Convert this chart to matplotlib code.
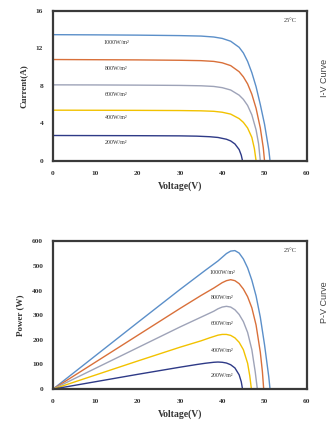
import matplotlib
matplotlib.use("Agg")
import matplotlib.pyplot as plt

plt.rcParams['font.family'] = ['Liberation Serif', 'DejaVu Serif']

irradiance_labels = ["1000W/m²", "800W/m²", "600W/m²", "400W/m²", "200W/m²"]
colors = ['#5B8FC9', '#D9703A', '#9EA3B8', '#F2C200', '#2E3A87']

# I-V curves (voltage V, current A)
iv_v_1000 = [0, 10, 20, 30, 35, 38, 40, 42, 44, 45, 46, 47, 48, 49, 50, 51, 51.3]
iv_i_1000 = [13.45, 13.43, 13.4, 13.35, 13.3, 13.2, 13.05, 12.75, 12.1, 11.5, 10.6, 9.4, 7.9, 6.0, 3.9, 1.2, 0]
iv_v_800 = [0, 10, 20, 30, 35, 38, 40, 42, 44, 45, 46, 47, 48, 49, 49.7, 50.0]
iv_i_800 = [10.8, 10.78, 10.76, 10.72, 10.68, 10.6, 10.45, 10.15, 9.5, 8.95, 8.2, 7.1, 5.6, 3.5, 1.4, 0]
iv_v_600 = [0, 10, 20, 30, 35, 38, 40, 42, 44, 45, 46, 47, 48, 48.6, 49]
iv_i_600 = [8.1, 8.09, 8.07, 8.04, 8.0, 7.93, 7.8, 7.55, 7.0, 6.55, 5.9, 4.9, 3.3, 1.8, 0]
iv_v_400 = [0, 10, 20, 30, 35, 38, 40, 42, 44, 45, 46, 47, 47.6, 48]
iv_i_400 = [5.4, 5.39, 5.38, 5.36, 5.33, 5.28, 5.18, 4.98, 4.5, 4.1, 3.5, 2.5, 1.3, 0]
iv_v_200 = [0, 10, 20, 30, 34, 37, 39, 41, 42, 43, 44, 44.5, 44.8]
iv_i_200 = [2.7, 2.69, 2.68, 2.66, 2.63, 2.57, 2.49, 2.3, 2.12, 1.8, 1.2, 0.6, 0]

# P-V curves (voltage V, power W)
pv_v_1000 = [0, 10, 20, 30, 36, 39, 41, 42, 43, 44, 45, 46, 47, 48, 49, 50, 51, 51.3]
pv_p_1000 = [0, 135, 270, 404, 482, 520, 550, 560, 562, 552, 528, 492, 442, 378, 292, 180, 50, 0]
pv_v_800 = [0, 10, 20, 30, 35, 38, 40, 41, 42, 43, 44, 45, 46, 47, 48, 49, 49.5, 49.8]
pv_p_800 = [0, 109, 218, 327, 380, 410, 432, 440, 444, 440, 428, 406, 375, 330, 260, 150, 70, 0]
pv_v_600 = [0, 10, 20, 30, 35, 38, 39, 40, 41, 42, 43, 44, 45, 46, 47, 47.8, 48.3]
pv_p_600 = [0, 84, 168, 252, 292, 316, 326, 333, 336, 333, 322, 303, 274, 230, 160, 70, 0]
pv_v_400 = [0, 10, 20, 30, 35, 37, 39, 40, 41, 42, 43, 44, 45, 46, 46.5, 46.9]
pv_p_400 = [0, 57, 114, 170, 196, 208, 219, 222, 222, 218, 208, 190, 160, 105, 55, 0]
pv_v_200 = [0, 10, 20, 30, 34, 36, 38, 39, 40, 41, 42, 43, 44, 44.5, 44.8]
pv_p_200 = [0, 30, 60, 89, 100, 105, 109, 110, 109, 106, 99, 86, 58, 30, 0]

iv_label_y = [12.6, 9.8, 7.1, 4.6, 1.9]
pv_label_y = [475, 370, 266, 158, 54]

x_ticks = [0, 10, 20, 30, 40, 50, 60]
iv_y_ticks = [0, 4, 8, 12, 16]
pv_y_ticks = [0, 100, 200, 300, 400, 500, 600]

iv_data = [(iv_v_1000, iv_i_1000), (iv_v_800, iv_i_800), (iv_v_600, iv_i_600),
           (iv_v_400, iv_i_400), (iv_v_200, iv_i_200)]
pv_data = [(pv_v_1000, pv_p_1000), (pv_v_800, pv_p_800), (pv_v_600, pv_p_600),
           (pv_v_400, pv_p_400), (pv_v_200, pv_p_200)]

fig = plt.figure(figsize=(3.35, 4.3), dpi=100)
ax1 = fig.add_axes([0.158, 0.626, 0.758, 0.349])
ax2 = fig.add_axes([0.158, 0.095, 0.758, 0.344])

tick_color = '#333333'

def style(ax, yticks, ylabel):
    ax.set_xlim(0, 60)
    ax.set_xticks(x_ticks)
    ax.set_yticks(yticks)
    ax.set_ylim(yticks[0], yticks[-1])
    ax.tick_params(length=0, labelsize=5.3, pad=7, colors=tick_color)
    for lab in ax.get_xticklabels() + ax.get_yticklabels():
        lab.set_fontweight('bold')
    for s in ax.spines.values():
        s.set_linewidth(1.6)
        s.set_color('#3a3a3a')
    ax.set_xlabel('Voltage(V)', fontsize=7, fontweight='bold', color=tick_color, labelpad=4)
    ax.set_ylabel(ylabel, fontsize=6.5, fontweight='bold', color=tick_color, labelpad=6)

for (v, i), c in zip(iv_data, colors):
    ax1.plot(v, i, color=c, lw=1.0)
for lab, y in zip(irradiance_labels, iv_label_y):
    ax1.text(15, y, lab, fontsize=4.3, ha='center', va='center', color='#333333')
ax1.text(56, 15, '25°C', fontsize=4.5, ha='center', va='center', color='#333333')
style(ax1, iv_y_ticks, 'Current(A)')

for (v, p), c in zip(pv_data, colors):
    ax2.plot(v, p, color=c, lw=1.0)
for lab, y in zip(irradiance_labels, pv_label_y):
    ax2.text(40, y, lab, fontsize=4.3, ha='center', va='center', color='#333333')
ax2.text(56, 563, '25°C', fontsize=4.5, ha='center', va='center', color='#333333')
style(ax2, pv_y_ticks, 'Power (W)')

fig.text(0.955, 0.818, 'I-V Curve', rotation=90, ha='left', va='center',
         fontsize=6.5, color='#444444', family=['Liberation Sans', 'DejaVu Sans'])
fig.text(0.955, 0.298, 'P-V Curve', rotation=90, ha='left', va='center',
         fontsize=6.5, color='#444444', family=['Liberation Sans', 'DejaVu Sans'])

fig.savefig('out.png', dpi=100, facecolor='white')
